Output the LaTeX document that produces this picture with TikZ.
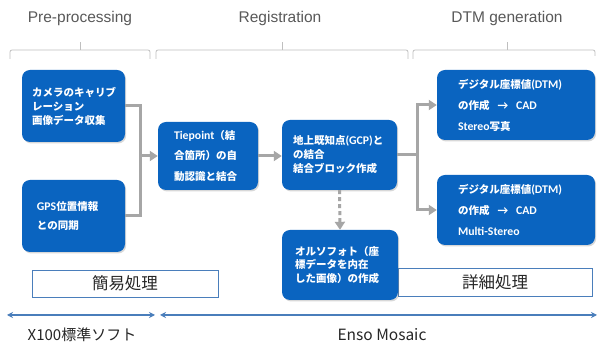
\documentclass[tikz,border=0pt]{standalone}
\usepackage{fontspec}
\setmainfont{Liberation Sans}
\newfontfamily\jp{Noto Sans CJK JP}
\newfontfamily\cb[Scale=1.12]{Carlito}
\usetikzlibrary{arrows.meta,shadows}
\definecolor{boxblue}{HTML}{0A64C0}
\definecolor{conngray}{HTML}{A6A6A6}
\definecolor{linegray}{HTML}{BFBFBF}
\definecolor{hdgray}{HTML}{595959}
\definecolor{lblue}{HTML}{4A7EBB}
\definecolor{dtext}{HTML}{262626}
\begin{document}
\begin{tikzpicture}[x=1pt,y=-1pt,
  box/.style={rectangle, rounded corners=8pt, fill=boxblue, inner sep=0pt,
    drop shadow={opacity=0.3, shadow xshift=1.2pt, shadow yshift=-1.5pt}},
  txt/.style={text=white, align=left, inner sep=0pt, anchor=west},
  conn/.style={draw=conngray, line width=3pt},
  arr/.style={conn, -{Triangle[length=8pt,width=10pt]}},
  brk/.style={draw=linegray, line width=0.8pt},
  hd/.style={font=\fontsize{15.5}{18}\selectfont, text=hdgray, inner sep=0pt},
  lbl/.style={draw=lblue, line width=0.8pt, fill=white, inner sep=0pt,
    font=\jp\fontsize{16.5}{18}\selectfont, text=dtext},
  barr/.style={draw=lblue, line width=1.3pt,
    {Stealth[length=6pt,width=6pt]}-{Stealth[length=6pt,width=6pt]}},
  bt/.style={font=\jp\fontsize{15}{18}\selectfont, text=dtext, inner sep=0pt}
]
\fill[white] (0,0) rectangle (598,344);
\useasboundingbox (0,0) rectangle (598,344);

% headers
\node[hd] (h1) at (80,18) {Pre-processing};
\node[hd] (h2) at (280,18) {Registration};
\node[hd] (h3) at (507,18) {DTM generation};

% brackets
\draw[brk, rounded corners=2pt] (10,59) -- (10,50) -- (150,50) -- (150,59);
\draw[brk] (80,50) -- (80,42);
\draw[brk, rounded corners=2pt] (156,59) -- (156,50) -- (408,50) -- (408,59);
\draw[brk] (282,50) -- (282,42);
\draw[brk, rounded corners=2pt] (413,59) -- (413,50) -- (595,50) -- (595,56);
\draw[brk] (507,50) -- (507,42);

% label boxes
\node[lbl, minimum width=186pt, minimum height=27pt] (easy) at (125,283.5) {簡易処理};
\node[lbl, minimum width=194pt, minimum height=28pt] (detail) at (495,282) {詳細処理};

% boxes
\node[box, minimum width=103pt, minimum height=72pt] (cam) at (73.5,106) {};
\node[box, minimum width=103pt, minimum height=72pt] (gps) at (73.5,216) {};
\node[box, minimum width=100pt, minimum height=68pt] (tie) at (208,156) {};
\node[box, minimum width=115pt, minimum height=70pt] (gcp) at (339.5,155) {};
\node[box, minimum width=158pt, minimum height=70pt] (dtma) at (516,105) {};
\node[box, minimum width=158pt, minimum height=70pt] (dtmb) at (516,210) {};
\node[box, minimum width=116pt, minimum height=70pt] (ortho) at (340,265) {};

% box texts
\node[txt, font=\jp\bfseries\fontsize{10.5}{14}\selectfont] (camt) at ([xshift=10pt]cam.west)
  {カメラのキャリブ\\レーション\\画像データ収集};
\node[txt, font=\jp\bfseries\fontsize{10.5}{19}\selectfont] (gpst) at ([xshift=15pt]gps.west)
  {{\cb\bfseries GPS}位置情報\\との同期};
\node[txt, font=\jp\bfseries\fontsize{10.5}{20.5}\selectfont] (tiet) at ([xshift=16pt]tie.west)
  {{\cb\bfseries Tiepoint}（結\\合箇所）の自\\動認識と結合};
\node[txt, font=\jp\bfseries\fontsize{10.5}{14}\selectfont] (gcpt) at ([xshift=11pt]gcp.west)
  {地上既知点{\cb\bfseries (GCP)}と\\の結合\\結合ブロック作成};
\node[txt, font=\jp\bfseries\fontsize{10.5}{21}\selectfont] (dtmat) at ([xshift=21pt]dtma.west)
  {デジタル座標値{\cb\bfseries (DTM)}\\の作成\hspace{8pt}{\cb\bfseries →}\hspace{8pt}{\cb\bfseries CAD}\\{\cb\bfseries Stereo}写真};
\node[txt, font=\jp\bfseries\fontsize{10.5}{21}\selectfont] (dtmbt) at ([xshift=21pt]dtmb.west)
  {デジタル座標値{\cb\bfseries (DTM)}\\の作成\hspace{8pt}{\cb\bfseries →}\hspace{8pt}{\cb\bfseries CAD}\\{\cb\bfseries Multi-Stereo}};
\node[txt, font=\jp\bfseries\fontsize{10.5}{13.5}\selectfont] (orthot) at ([xshift=13pt]ortho.west)
  {オルソフォト（座\\標データを内在\\した画像）の作成};

% connectors
\coordinate (j1) at (140,156);
\draw[conn] (cam.east) -- (cam.east -| j1) -- (gps.east -| j1) -- (gps.east);
\draw[arr] (j1) -- (tie.west);
\draw[arr] (tie.east) -- (tie.east -| gcp.west);
\coordinate (j2) at (417,155);
\draw[conn] (gcp.east) -- (j2);
\draw[arr] (j2) |- (dtma.west);
\draw[arr] (j2) |- (dtmb.west);
\draw[arr, dash pattern=on 4pt off 3pt] (gcp.south) -- (ortho.north);

% bottom arrows
\coordinate (b1) at (7,315);
\coordinate (b2) at (155,315);
\coordinate (b3) at (160,315);
\coordinate (b4) at (597,315);
\draw[barr] (b1) -- (b2);
\draw[barr] (b3) -- (b4);
\node[bt] (x100) at (82,335) {X100標準ソフト};
\node[bt, font=\jp\fontsize{15.5}{18}\selectfont] (enso) at (382,335) {Enso Mosaic};
\end{tikzpicture}
\end{document}
